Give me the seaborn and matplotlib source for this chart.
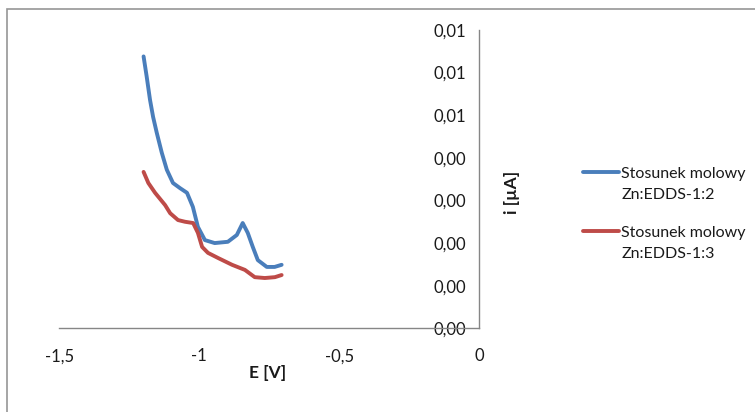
import matplotlib
matplotlib.use("Agg")
import matplotlib.pyplot as plt
from matplotlib.patches import Rectangle
from matplotlib.legend_handler import HandlerLine2D
import pandas as pd
import seaborn as sns

# Potential E [V] and current i for the two molar ratios
e_12 = [-1.199, -1.188, -1.176, -1.165, -1.152, -1.134, -1.116, -1.094, -1.069,
        -1.044, -1.023, -1.005, -0.980, -0.945, -0.898, -0.866, -0.845, -0.827,
        -0.809, -0.791, -0.759, -0.731, -0.706]
i_12 = [0.00638, 0.00591, 0.00536, 0.00496, 0.00459, 0.00412, 0.00372, 0.00341,
        0.00329, 0.00318, 0.00285, 0.00238, 0.00207, 0.00200, 0.00203, 0.00219,
        0.00247, 0.00224, 0.00191, 0.00160, 0.00144, 0.00144, 0.00149]

e_13 = [-1.199, -1.182, -1.158, -1.122, -1.104, -1.076, -1.051, -1.022, -1.005,
        -0.990, -0.969, -0.933, -0.883, -0.837, -0.802, -0.766, -0.730, -0.706]
i_13 = [0.00367, 0.00341, 0.00318, 0.00289, 0.00270, 0.00254, 0.00250, 0.00247,
        0.00224, 0.00191, 0.00177, 0.00165, 0.00149, 0.00137, 0.00120, 0.00118,
        0.00120, 0.00125]

series_names = ["Stosunek molowy\nZn:EDDS-1:2", "Stosunek molowy\nZn:EDDS-1:3"]
series_colors = ["#4a7ebb", "#be4b48"]

x_ticks = [-1.5, -1.0, -0.5, 0.0]
x_tick_labels = ["-1,5", "-1", "-0,5", "0"]
y_ticks = [0.000, 0.001, 0.002, 0.003, 0.004, 0.005, 0.006, 0.007]
y_tick_labels = ["0,00", "0,00", "0,00", "0,00", "0,00", "0,01", "0,01", "0,01"]

df = pd.concat([
    pd.DataFrame({"E": e_12, "i": i_12, "seria": series_names[0]}),
    pd.DataFrame({"E": e_13, "i": i_13, "seria": series_names[1]}),
], ignore_index=True)

sns.set_style("white")
plt.rcParams["font.family"] = ["Lato", "DejaVu Sans"]

W, H = 755, 412
fig = plt.figure(figsize=(W / 100, H / 100), dpi=100)
ax = fig.add_axes([59.3 / W, (H - 328.3) / H, 420 / W, (328.3 - 30) / H])

sns.lineplot(data=df, x="E", y="i", hue="seria", palette=series_colors,
             sort=False, estimator=None, linewidth=2.8, ax=ax, legend=False)

ax.set_xlim(-1.5, 0)
ax.set_ylim(0, 0.007)
ax.set_xticks(x_ticks)
ax.set_xticklabels(x_tick_labels)
ax.set_yticks(y_ticks)
ax.set_yticklabels(y_tick_labels)
ax.set_xlabel("")
ax.set_ylabel("")

axis_grey = "#868686"
for side in ("top", "right"):
    ax.spines[side].set_visible(False)
ax.spines["left"].set_position(("data", 0))
for side in ("left", "bottom"):
    ax.spines[side].set_color(axis_grey)
    ax.spines[side].set_linewidth(1)
ax.tick_params(axis="both", direction="out", length=4.5, width=1,
               color=axis_grey, labelsize=12, labelcolor="#1a1a1a")
ax.tick_params(axis="x", pad=10)
ax.tick_params(axis="y", pad=5)

fig.text(268 / W, 1 - 373 / H, "E [V]", ha="center", va="center",
         fontsize=12.5, fontweight="bold", color="#1a1a1a")
fig.text(512 / W, 1 - 192 / H, "i [µA]", ha="center", va="center",
         rotation=90, fontsize=12.5, fontweight="bold", color="#1a1a1a")


class FirstLineHandler(HandlerLine2D):
    """Legend line aligned with the first line of a two-line label."""

    def __init__(self, shift, **kw):
        super().__init__(**kw)
        self.shift = shift

    def create_artists(self, legend, orig_handle, xdescent, ydescent,
                       width, height, fontsize, trans):
        artists = super().create_artists(legend, orig_handle, xdescent,
                                         ydescent, width, height, fontsize,
                                         trans)
        for a in artists:
            a.set_ydata([y + self.shift for y in a.get_ydata()])
        return artists


plt.rcParams["text.parse_math"] = False
handles = [plt.Line2D([], [], color=c, lw=2.8) for c in series_colors]
leg = fig.legend(handles, series_names, loc="upper left",
                 bbox_to_anchor=(577 / W, 1 - 161 / H), frameon=False,
                 prop={"size": 11.5}, handlelength=2.25, handletextpad=0.12,
                 labelspacing=1.5, borderaxespad=0, labelcolor="#1a1a1a",
                 handler_map={h: FirstLineHandler(9.0) for h in handles})
for t in leg.get_texts():
    t.set_linespacing(1.6)

fig.patches.append(Rectangle((7 / W, -0.1), 1.2, (H - 9) / H + 0.1,
                             transform=fig.transFigure, fill=False,
                             edgecolor="#969696", linewidth=1.2))

fig.savefig("out.png", dpi=100)
